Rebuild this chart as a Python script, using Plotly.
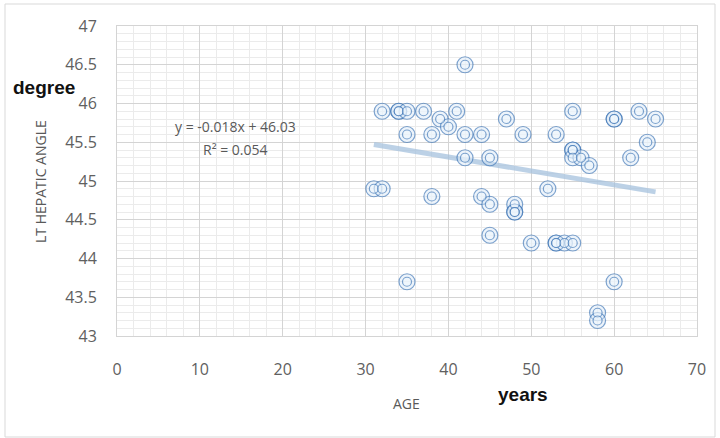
import plotly.graph_objects as go

# Age (years) and left hepatic angle (degrees) per subject
age = [42, 32, 34, 34, 35, 37, 41, 55, 63, 39, 47, 60, 60, 65, 40,
       35, 38, 42, 44, 49, 53, 64, 55, 55, 55, 56, 57, 42, 45, 62,
       31, 32, 52, 38, 44, 45, 48, 48, 48, 45, 50, 53, 53, 54, 55,
       35, 60, 58, 58]
lt_hepatic_angle = [46.5, 45.9, 45.9, 45.9, 45.9, 45.9, 45.9, 45.9, 45.9, 45.8,
                    45.8, 45.8, 45.8, 45.8, 45.7, 45.6, 45.6, 45.6, 45.6, 45.6,
                    45.6, 45.5, 45.4, 45.4, 45.3, 45.3, 45.2, 45.3, 45.3, 45.3,
                    44.9, 44.9, 44.9, 44.8, 44.8, 44.7, 44.7, 44.6, 44.6, 44.3,
                    44.2, 44.2, 44.2, 44.2, 44.2, 43.7, 43.7, 43.3, 43.2]

# Linear trend line as stated in the equation label
slope = -0.018
intercept = 46.03
r_squared = 0.054
trend_x = [min(age), max(age)]
trend_y = [slope * x + intercept for x in trend_x]

x_ticks = [0, 10, 20, 30, 40, 50, 60, 70]
y_ticks = [43, 43.5, 44, 44.5, 45, 45.5, 46, 46.5, 47]

W, H = 720, 438
L, R, T, B = 117, 23, 26, 102
PW, PH = W - L - R, H - T - B


def px(x):
    return (x - L) / PW


def py(y):
    return (H - B - y) / PH


fig = go.Figure()

fig.add_trace(go.Scatter(
    x=trend_x, y=trend_y, mode="lines",
    line=dict(color="rgba(165,194,222,0.75)", width=5),
    hoverinfo="skip", showlegend=False,
))

# double-ring markers: outer ring then inner ring
ring = "rgba(45,105,175,0.6)"
fig.add_trace(go.Scatter(
    x=age, y=lt_hepatic_angle, mode="markers",
    marker=dict(symbol="circle", size=16, color="rgba(215,230,246,0.45)",
                line=dict(color=ring, width=1.2)),
    showlegend=False,
))
fig.add_trace(go.Scatter(
    x=age, y=lt_hepatic_angle, mode="markers",
    marker=dict(symbol="circle", size=9, color="rgba(240,247,253,0.55)",
                line=dict(color=ring, width=1.2)),
    showlegend=False,
))

tick_font = dict(family="Open Sans, sans-serif", size=16, color="#606060")
grid_major = "#d4d4d4"
grid_minor = "#ebebeb"

fig.update_xaxes(
    range=[0, 70], tickvals=x_ticks, ticktext=[str(v) for v in x_ticks],
    showgrid=True, gridcolor=grid_major, gridwidth=1,
    minor=dict(dtick=2, showgrid=True, gridcolor=grid_minor, gridwidth=1),
    showline=True, linecolor=grid_major, mirror=True,
    ticks="outside", ticklen=19, tickcolor="rgba(0,0,0,0)",
    tickfont=tick_font, zeroline=False,
)
fig.update_yaxes(
    range=[43, 47], tickvals=y_ticks, ticktext=[f"{v:g}" for v in y_ticks],
    showgrid=True, gridcolor=grid_major, gridwidth=1,
    minor=dict(dtick=0.1, showgrid=True, gridcolor=grid_minor, gridwidth=1),
    showline=True, linecolor=grid_major, mirror=True,
    ticks="outside", ticklen=16, tickcolor="rgba(0,0,0,0)",
    tickfont=tick_font, zeroline=False,
)

label_font = dict(family="Open Sans, sans-serif", size=14, color="#595959")
bold_font = dict(family="Liberation Sans, Arial, sans-serif", size=19, color="#111111")

annotations = [
    dict(x=px(235), y=py(126), text=f"y = {slope}x + {intercept}", font=label_font),
    dict(x=px(235), y=py(149), text=f"R² = {r_squared}", font=label_font),
    dict(x=px(41), y=py(182), text="LT HEPATIC ANGLE", textangle=-90, font=label_font),
    dict(x=px(406), y=py(403), text="AGE", font=label_font),
    dict(x=px(44), y=py(87), text="<b>degree</b>", font=bold_font),
    dict(x=px(523), y=py(394), text="<b>years</b>", font=bold_font),
]
for a in annotations:
    a.update(xref="paper", yref="paper", showarrow=False,
             xanchor="center", yanchor="middle")

fig.update_layout(
    width=W, height=H,
    margin=dict(l=L, r=R, t=T, b=B),
    paper_bgcolor="white", plot_bgcolor="white",
    annotations=annotations,
    shapes=[dict(type="rect", xref="paper", yref="paper",
                 x0=px(5), x1=px(715), y0=py(437), y1=py(4),
                 line=dict(color="#d9d9d9", width=1), layer="below")],
)

fig.write_html("out.html")
